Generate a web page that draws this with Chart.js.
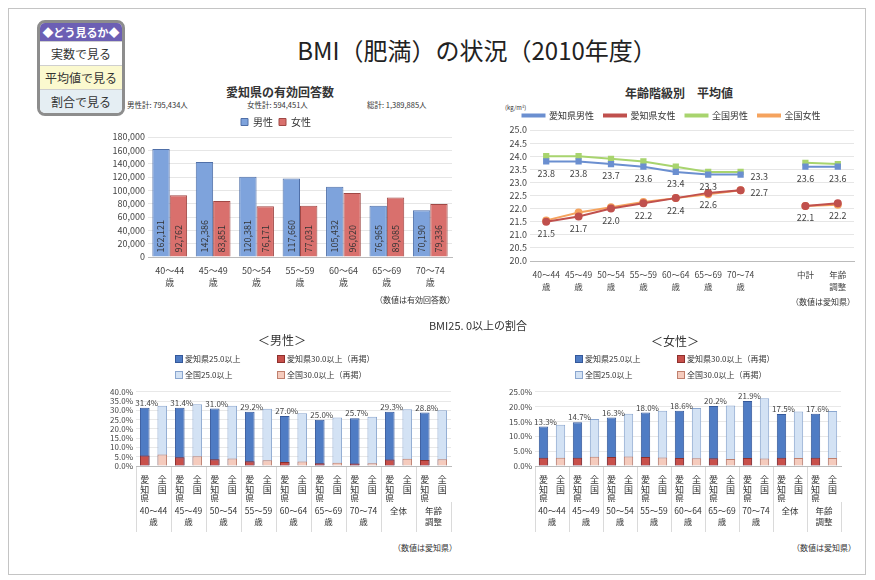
<!DOCTYPE html>
<html>
<head>
<meta charset="utf-8">
<script src="https://cdn.jsdelivr.net/npm/chart.js@4.4.0/dist/chart.umd.min.js"></script>
<style>
body{margin:0;background:#fff;font-family:'Noto Sans CJK JP',sans-serif;color:#333}
#page{position:relative;width:875px;height:580px;overflow:hidden;background:#fff}
.frame{position:absolute;left:8px;top:8px;width:856px;height:565px;border:1px solid #c4c4c4}
.t{position:absolute;white-space:nowrap;line-height:1}
.c{transform:translate(-50%,-50%)}
.l{transform:translateY(-50%)}
.r{transform:translate(-100%,-50%)}
.cw{position:absolute}
#menu{position:absolute;left:37px;top:20px;width:82px;border:3px solid #8d8d8d;border-radius:8px;overflow:hidden;background:#fff}
#menu .hd{background:#6c5fb4;color:#fff;font-size:11px;font-weight:bold;height:18px;line-height:18px;text-align:center}
#menu .it{height:23px;line-height:23px;font-size:12px;text-align:center;border-top:1px solid #cfcfcf;color:#333}
.lg{position:absolute;font-size:8px;white-space:nowrap;transform:translateY(-50%);line-height:1}
.sw{display:inline-block;width:6px;height:6px;border:1px solid;margin-right:2px;vertical-align:-1px}
</style>
</head>
<body>
<div id="page">
  <div class="frame"></div>

  <div id="menu">
    <div class="hd">◆どう見るか◆</div>
    <div class="it">実数で見る</div>
    <div class="it" style="background:#fbf9cf">平均値で見る</div>
    <div class="it" style="background:#e5eef3">割合で見る</div>
  </div>

  <div class="t c" style="left:477px;top:50px;font-size:24px;color:#222">BMI（肥満）の状況（2010年度）</div>

  <!-- 有効回答数 -->
  <div class="t c" style="left:280px;top:92px;font-size:12px;font-weight:bold">愛知県の有効回答数</div>
  <div class="t l" style="left:127px;top:105px;font-size:7.5px">男性計: 795,434人</div>
  <div class="t l" style="left:247px;top:105px;font-size:7.5px">女性計: 594,451人</div>
  <div class="t l" style="left:367px;top:105px;font-size:7.5px">総計: 1,389,885人</div>
  <div class="cw" style="left:100px;top:111px;width:360px;height:186px"><canvas id="countChart"></canvas></div>
  <div class="t r" style="left:455px;top:300px;font-size:8px">（数値は有効回答数）</div>

  <!-- 平均値 -->
  <div class="t c" style="left:679px;top:93px;font-size:12px;font-weight:bold">年齢階級別　平均値</div>
  <div class="t l" style="left:505px;top:108px;font-size:6px">(kg/m²)</div>
  <div class="cw" style="left:488px;top:101px;width:372px;height:196px"><canvas id="avgChart"></canvas></div>
  <div class="t r" style="left:855px;top:302px;font-size:8px">（数値は愛知県）</div>

  <!-- 割合 -->
  <div class="t c" style="left:478px;top:325px;font-size:11px">BMI25. 0以上の割合</div>
  <div class="t c" style="left:282px;top:340px;font-size:12px">＜男性＞</div>
  <div class="t c" style="left:675px;top:341px;font-size:12px">＜女性＞</div>
  <div id="legendMale"></div>
  <div id="legendFemale"></div>
  <div class="cw" style="left:95px;top:384px;width:360px;height:148px"><canvas id="maleChart"></canvas></div>
  <div class="cw" style="left:490px;top:384px;width:355px;height:148px"><canvas id="femaleChart"></canvas></div>
  <div class="t r" style="left:457px;top:548px;font-size:8px">（数値は愛知県）</div>
  <div class="t r" style="left:856px;top:548px;font-size:8px">（数値は愛知県）</div>
</div>

<script>
// ---- data ----
const countAges = ['40～44', '45～49', '50～54', '55～59', '60～64', '65～69', '70～74'];
const maleCounts = [162121, 142386, 120381, 117660, 105432, 76965, 70190];
const femaleCounts = [92762, 83851, 76171, 77031, 96020, 89085, 79336];

const avgCats = [['40～44', '歳'], ['45～49', '歳'], ['50～54', '歳'], ['55～59', '歳'], ['60～64', '歳'], ['65～69', '歳'], ['70～74', '歳'], '', ['中計'], ['年齢', '調整']];
const aichiMaleAvg = [23.8, 23.8, 23.7, 23.6, 23.4, 23.3, 23.3, null, 23.6, 23.6];
const aichiFemaleAvg = [21.5, 21.7, 22.0, 22.2, 22.4, 22.6, 22.7, null, 22.1, 22.2];
const nationalMaleAvg = [24.0, 24.0, 23.9, 23.8, 23.6, 23.4, 23.4, null, 23.75, 23.7];
const nationalFemaleAvg = [21.55, 21.85, 22.05, 22.25, 22.4, 22.55, 22.7, null, 22.1, 22.15];

const rateGroups = [['40～44', '歳'], ['45～49', '歳'], ['50～54', '歳'], ['55～59', '歳'], ['60～64', '歳'], ['65～69', '歳'], ['70～74', '歳'], ['全体'], ['年齢', '調整']];
const pairNames = [['愛', '知', '県'], ['全', '国']];
const rateSeries = ['愛知県25.0以上', '愛知県30.0以上（再掲）', '全国25.0以上', '全国30.0以上（再掲）'];

const aichiMale25 = [31.4, 31.4, 31.0, 29.2, 27.0, 25.0, 25.7, 29.3, 28.8];
const aichiMale30 = [5.7, 4.7, 3.6, 2.6, 2.1, 1.5, 1.3, 3.5, 3.2];
const nationalMale25 = [32.5, 33.3, 32.5, 30.8, 28.4, 26.1, 26.5, 30.6, 30.1];
const nationalMale30 = [6.2, 5.2, 4.1, 3.1, 2.4, 1.7, 1.5, 3.9, 3.7];

const aichiFemale25 = [13.3, 14.7, 16.3, 18.0, 18.6, 20.2, 21.9, 17.5, 17.6];
const aichiFemale30 = [2.8, 2.8, 3.0, 3.0, 2.7, 2.6, 2.7, 2.8, 2.8];
const nationalFemale25 = [13.9, 15.8, 17.6, 18.6, 19.5, 20.4, 22.8, 18.4, 18.5];
const nationalFemale30 = [2.8, 3.1, 3.2, 2.9, 2.6, 2.4, 2.5, 2.7, 2.7];

// ---- styles ----
Chart.defaults.font.family = "'Noto Sans CJK JP', sans-serif";
Chart.defaults.color = '#444';
const rateColors = [
  {bg: '#4f7cc4', bd: '#34589a'},
  {bg: '#c8504b', bd: '#8e2f2c'},
  {bg: '#d3e2f4', bd: '#8aa6cf'},
  {bg: '#f5cbbd', bd: '#c0806e'}
];

// numbers written up the bars
const barValueLabels = {
  id: 'barValueLabels',
  afterDatasetsDraw(chart) {
    const ctx = chart.ctx;
    ctx.save();
    ctx.font = "9px 'Noto Sans CJK JP'";
    ctx.fillStyle = '#333';
    ctx.textBaseline = 'middle';
    ctx.textAlign = 'left';
    chart.data.datasets.forEach((ds, di) => {
      chart.getDatasetMeta(di).data.forEach((bar, i) => {
        ctx.save();
        ctx.translate(bar.x, bar.base - 4);
        ctx.rotate(-Math.PI / 2);
        ctx.fillText(ds.data[i].toLocaleString('en-US'), 0, 0);
        ctx.restore();
      });
    });
    ctx.restore();
  }
};

// 愛知県 values under the points
const pointLabels = {
  id: 'pointLabels',
  afterDatasetsDraw(chart) {
    const ctx = chart.ctx;
    ctx.save();
    ctx.font = "9px 'Noto Sans CJK JP'";
    ctx.fillStyle = '#444';
    ctx.textBaseline = 'middle';
    [0, 1].forEach(di => {
      const data = chart.data.datasets[di].data;
      chart.getDatasetMeta(di).data.forEach((p, i) => {
        if (data[i] === null) return;
        if (i < data.length - 1 && data[i + 1] === null) {
          ctx.textAlign = 'left';
          ctx.fillText(data[i].toFixed(1), p.x + 10, p.y + 2);
        } else {
          ctx.textAlign = 'center';
          ctx.fillText(data[i].toFixed(1), p.x, p.y + 12);
        }
      });
    });
    ctx.restore();
  }
};

// percentage above the 愛知県25.0以上 bars
const rateLabels = {
  id: 'rateLabels',
  afterDatasetsDraw(chart) {
    const ctx = chart.ctx;
    const data = chart.data.datasets[0].data;
    ctx.save();
    ctx.font = "8px 'Noto Sans CJK JP'";
    ctx.fillStyle = '#444';
    ctx.textAlign = 'center';
    ctx.textBaseline = 'bottom';
    chart.getDatasetMeta(0).data.forEach((bar, i) => {
      if (data[i] === null) return;
      ctx.fillText(data[i].toFixed(1) + '%', bar.x + 2, bar.y - 1);
    });
    ctx.restore();
  }
};

// ---- chart 1 ----
new Chart(document.getElementById('countChart'), {
  type: 'bar',
  data: {
    labels: countAges.map(a => [a, '歳']),
    datasets: [
      {label: '男性', data: maleCounts, backgroundColor: '#7ea3dc', borderColor: '#4f6fa8', borderWidth: 1, categoryPercentage: 0.8, barPercentage: 1},
      {label: '女性', data: femaleCounts, backgroundColor: '#d9706d', borderColor: '#a04845', borderWidth: 1, categoryPercentage: 0.8, barPercentage: 1}
    ]
  },
  options: {
    responsive: true,
    maintainAspectRatio: false,
    animation: false,
    layout: {padding: {right: 8}},
    plugins: {
      legend: {labels: {boxWidth: 7, boxHeight: 7, padding: 6, font: {size: 10}, color: '#333'}},
      tooltip: {enabled: false}
    },
    scales: {
      y: {
        min: 0, max: 180000,
        ticks: {stepSize: 20000, autoSkip: false, font: {size: 9}, color: '#444', callback: v => v.toLocaleString('en-US')},
        grid: {color: '#e6e6e6', drawTicks: false},
        border: {display: false},
        afterFit: s => { s.width = 48; }
      },
      x: {
        ticks: {font: {size: 9, lineHeight: 1.3}, color: '#444', maxRotation: 0, padding: 0},
        grid: {display: false},
        border: {color: '#bbb'},
        afterFit: s => { s.height = 40; }
      }
    }
  },
  plugins: [barValueLabels]
});

// ---- chart 2 ----
function lineSet(label, data, color, style) {
  return {label, data, borderColor: color, backgroundColor: color, pointStyle: style,
    pointRadius: 3, borderWidth: 2, spanGaps: false};
}
new Chart(document.getElementById('avgChart'), {
  type: 'line',
  data: {
    labels: avgCats,
    datasets: [
      lineSet('愛知県男性', aichiMaleAvg, '#6b8fd0', 'rect'),
      lineSet('愛知県女性', aichiFemaleAvg, '#c0504d', 'circle'),
      lineSet('全国男性', nationalMaleAvg, '#a8d46e', 'rect'),
      lineSet('全国女性', nationalFemaleAvg, '#f5a35e', 'circle')
    ]
  },
  options: {
    responsive: true,
    maintainAspectRatio: false,
    animation: false,
    layout: {padding: {right: 5}},
    plugins: {
      legend: {labels: {boxWidth: 22, boxHeight: 2, padding: 10, font: {size: 9}, color: '#333'}},
      tooltip: {enabled: false}
    },
    scales: {
      y: {
        min: 20, max: 25,
        ticks: {stepSize: 0.5, autoSkip: false, font: {size: 9}, color: '#444', callback: v => v.toFixed(1)},
        grid: {color: '#e6e6e6', drawTicks: false},
        border: {display: false},
        afterFit: s => { s.width = 42; }
      },
      x: {
        offset: true,
        ticks: {font: {size: 8.5, lineHeight: 1.4}, color: '#444', maxRotation: 0, autoSkip: false, padding: 0},
        grid: {display: false},
        border: {color: '#bbb'},
        afterFit: s => { s.height = 36; }
      }
    }
  },
  plugins: [pointLabels]
});

// ---- charts 3 and 4 ----
function pairData(values, slot) {
  const out = [];
  values.forEach(v => { out.push(slot === 0 ? v : null); out.push(slot === 1 ? v : null); });
  return out;
}

function buildLegend(id, left) {
  const el = document.getElementById(id);
  rateSeries.forEach((name, i) => {
    const d = document.createElement('div');
    d.className = 'lg';
    d.style.left = (left + (i % 2) * 102) + 'px';
    d.style.top = (359 + Math.floor(i / 2) * 16) + 'px';
    d.innerHTML = '<span class="sw" style="background:' + rateColors[i].bg + ';border-color:' + rateColors[i].bd + '"></span>' + name;
    el.appendChild(d);
  });
}

function rateChart(id, a25, a30, n25, n30, max, yWidth) {
  const values = [pairData(a25, 0), pairData(a30, 0), pairData(n25, 1), pairData(n30, 1)];
  return new Chart(document.getElementById(id), {
    type: 'bar',
    data: {
      labels: rateGroups.flatMap(() => pairNames),
      datasets: rateSeries.map((name, i) => ({
        label: name,
        data: values[i],
        backgroundColor: rateColors[i].bg,
        borderColor: rateColors[i].bd,
        borderWidth: 1,
        order: i % 2 === 0 ? 2 : 1,
        grouped: false,
        barPercentage: 0.55,
        categoryPercentage: 1
      }))
    },
    options: {
      responsive: true,
      maintainAspectRatio: false,
      animation: false,
      layout: {padding: {right: 4}},
      plugins: {legend: {display: false}, tooltip: {enabled: false}},
      scales: {
        y: {
          min: 0, max: max,
          ticks: {stepSize: 5, autoSkip: false, font: {size: 8}, color: '#444', padding: 3, callback: v => v.toFixed(1) + '%'},
          grid: {color: '#e8e8e8', drawTicks: false},
          border: {display: false},
          afterFit: s => { s.width = yWidth; }
        },
        x: {
          offset: true,
          grid: {display: true, drawOnChartArea: false, drawTicks: true, tickLength: 36, offset: true,
            color: c => c.index % 2 === 0 ? '#dadada' : 'rgba(0,0,0,0)'},
          border: {color: '#bbb'},
          ticks: {padding: -27, font: {size: 9, lineHeight: 1.05}, color: '#333', maxRotation: 0, autoSkip: false},
          afterFit: s => { s.height = 36; }
        },
        x2: {
          type: 'category',
          labels: rateGroups,
          position: 'bottom',
          offset: true,
          grid: {drawOnChartArea: false, offset: true, tickLength: 30, color: '#dadada'},
          border: {display: false},
          ticks: {padding: -27, font: {size: 8.5, lineHeight: 1.35}, color: '#333', maxRotation: 0, autoSkip: false},
          afterFit: s => { s.height = 30; }
        }
      }
    },
    plugins: [rateLabels]
  });
}

buildLegend('legendMale', 175);
buildLegend('legendFemale', 575);
rateChart('maleChart', aichiMale25, aichiMale30, nationalMale25, nationalMale30, 40, 41);
rateChart('femaleChart', aichiFemale25, aichiFemale30, nationalFemale25, nationalFemale30, 25, 45);
</script>
</body>
</html>
